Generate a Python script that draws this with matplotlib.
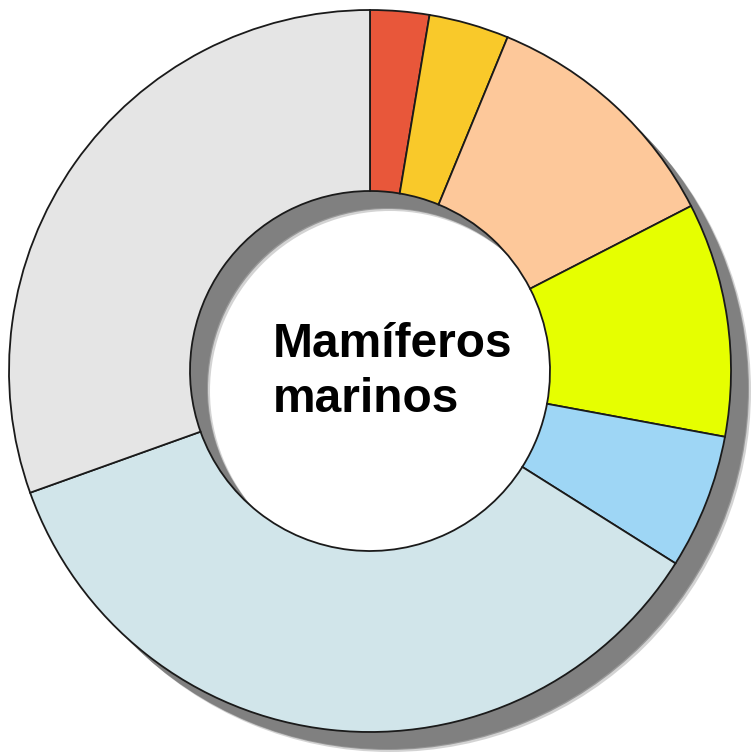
import matplotlib.pyplot as plt
from matplotlib.patches import Wedge

# segment sizes (degrees of the ring, clockwise from 12 o'clock)
valores = [9.5, 12.9, 40.4, 37.7, 21.7, 128.1, 109.7]
colores = ['#E8573A', '#F9C92A', '#FDC89A', '#E6FF00', '#9ED6F5', '#D1E5EA', '#E5E5E5']
titulo = ['Mamíferos', 'marinos']

W, H = 754, 755
fig = plt.figure(figsize=(W / 100, H / 100), dpi=100)
ax = fig.add_axes([0, 0, 1, 1])

cx, cy = 370, H - 371
R = 361
ancho = 181

# soft drop shadow of the ring
for off, col, a in [(20, '#A8A8A8', 0.5), (18, '#888888', 0.8), (17, '#808080', 1.0)]:
    ax.add_patch(Wedge((cx + off, cy - off), R, 0, 360, width=ancho,
                       facecolor=col, edgecolor='none', alpha=a))

ax.pie(valores, colors=colores, startangle=90, counterclock=False,
       center=(cx, cy), radius=R, frame=True,
       wedgeprops=dict(width=ancho, edgecolor='#1a1a1a', linewidth=1.3))
ax.set_xlim(0, W)
ax.set_ylim(0, H)
ax.set_aspect('equal')
ax.axis('off')

ax.text(273, H - 357, titulo[0], ha='left', va='baseline', fontsize=34.5,
        fontweight='bold', family='Liberation Sans', color='black')
ax.text(273, H - 412, titulo[1], ha='left', va='baseline', fontsize=34.5,
        fontweight='bold', family='Liberation Sans', color='black')

fig.savefig('out.png', dpi=100)
